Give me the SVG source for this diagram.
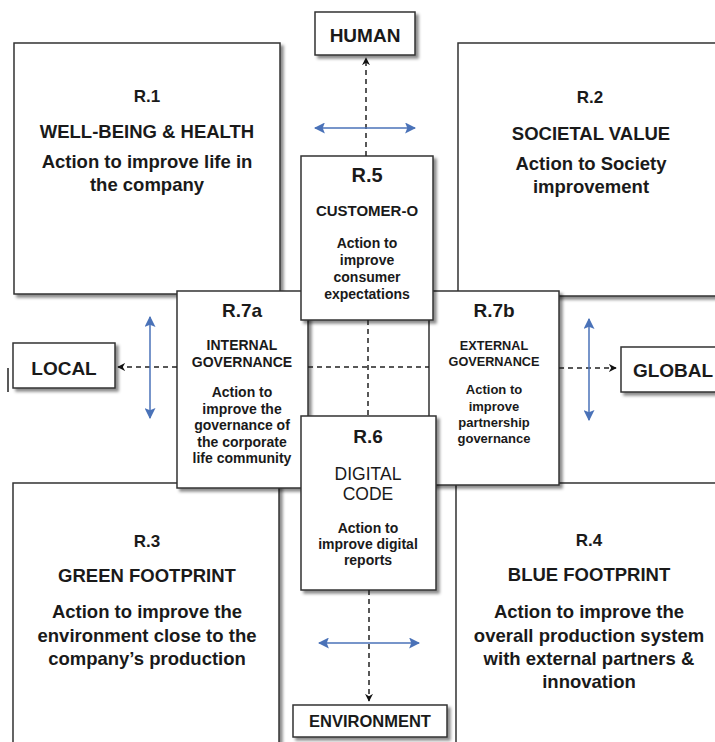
<svg xmlns="http://www.w3.org/2000/svg" width="715" height="742" viewBox="0 0 715 742">
<defs>
<filter id="sh" x="-10%" y="-10%" width="125%" height="125%">
<feDropShadow dx="3" dy="3" stdDeviation="1.6" flood-color="#000" flood-opacity="0.45"/>
</filter>
<marker id="ah" viewBox="0 0 10 10" refX="9" refY="5" markerWidth="8" markerHeight="8" markerUnits="userSpaceOnUse" orient="auto-start-reverse">
<path d="M0,0 L10,5 L0,10 L3,5 z" fill="#111"/>
</marker>
<marker id="bh" viewBox="0 0 10 10" refX="9" refY="5" markerWidth="11" markerHeight="11" markerUnits="userSpaceOnUse" orient="auto-start-reverse">
<path d="M0,0 L10,5 L0,10 L2,5 z" fill="#4a72b8"/>
</marker>
</defs>
<style>
.box{fill:#fff;stroke:#333;stroke-width:1.5;filter:url(#sh)}
text{font-family:"Liberation Sans",Arial,Helvetica,sans-serif;fill:#1a1a1a;text-anchor:middle}
.b{font-weight:bold}
.q{font-size:18.5px;font-weight:bold}
.qr{font-size:17px;font-weight:bold}
.dash{stroke:#222;stroke-width:1.5;stroke-dasharray:5,4;fill:none}
.blue{stroke:#4a72b8;stroke-width:1.5;fill:none;marker-start:url(#bh);marker-end:url(#bh)}
</style>

<g id="R1">
<rect class="box" x="14" y="43" width="266" height="251"/>
<text class="qr" x="147" y="102">R.1</text>
<text class="q" x="147" y="138">WELL-BEING &amp; HEALTH</text>
<text class="q" x="147" y="168">Action to improve life in</text>
<text class="q" x="147" y="191">the company</text>
</g>
<g id="R2">
<rect class="box" x="458" y="43" width="270" height="253"/>
<text class="qr" x="590" y="103">R.2</text>
<text class="q" x="591" y="140">SOCIETAL VALUE</text>
<text class="q" x="591" y="170">Action to Society</text>
<text class="q" x="591" y="193">improvement</text>
</g>
<g id="R3">
<rect class="box" x="13" y="483" width="266" height="270"/>
<text class="qr" x="147" y="547">R.3</text>
<text class="q" x="147" y="582">GREEN FOOTPRINT</text>
<text class="q" x="147" y="618">Action to improve the</text>
<text class="q" x="147" y="642">environment close to the</text>
<text class="q" x="147" y="665">company’s production</text>
</g>
<g id="R4">
<rect class="box" x="456" y="483" width="272" height="270"/>
<text class="qr" x="589" y="546">R.4</text>
<text class="q" x="589" y="581">BLUE FOOTPRINT</text>
<text class="q" x="589" y="618">Action to improve the</text>
<text class="q" x="589" y="642">overall production system</text>
<text class="q" x="589" y="665">with external partners &amp;</text>
<text class="q" x="589" y="688">innovation</text>
</g>

<g id="HUMAN">
<rect class="box" x="315" y="12" width="100" height="43"/>
<text class="b" x="365" y="42" font-size="19">HUMAN</text>
</g>
<g id="LOCAL">
<rect class="box" x="13" y="343" width="102" height="45"/>
<text class="b" x="64" y="375" font-size="19">LOCAL</text>
</g>
<g id="GLOBAL">
<rect class="box" x="621" y="347" width="110" height="45"/>
<text class="b" x="673" y="377" font-size="19">GLOBAL</text>
</g>
<g id="ENVIRONMENT">
<rect class="box" x="293" y="705" width="154" height="32"/>
<text class="b" x="370" y="727" font-size="16.5">ENVIRONMENT</text>
</g>

<g id="R7a">
<rect class="box" x="177" y="291" width="131" height="197"/>
<text class="b" x="242" y="317" font-size="19">R.7a</text>
<text class="b" x="242" y="350" font-size="14">INTERNAL</text>
<text class="b" x="242" y="367" font-size="14">GOVERNANCE</text>
<text class="b" x="242" y="397" font-size="14">Action to</text>
<text class="b" x="242" y="413.5" font-size="14">improve the</text>
<text class="b" x="242" y="430" font-size="14">governance of</text>
<text class="b" x="242" y="446.5" font-size="14">the corporate</text>
<text class="b" x="242" y="463" font-size="14">life community</text>
</g>
<g id="R7b">
<rect class="box" x="429" y="291" width="130" height="194"/>
<text class="b" x="494" y="317" font-size="19">R.7b</text>
<text class="b" x="494" y="350" font-size="12.7">EXTERNAL</text>
<text class="b" x="494" y="366" font-size="12.7">GOVERNANCE</text>
<text class="b" x="494" y="394" font-size="13">Action to</text>
<text class="b" x="494" y="410.5" font-size="13">improve</text>
<text class="b" x="494" y="427" font-size="13">partnership</text>
<text class="b" x="494" y="443" font-size="13">governance</text>
</g>
<g id="R5">
<rect class="box" x="301" y="156" width="132" height="164"/>
<text class="b" x="367" y="182" font-size="20">R.5</text>
<text class="b" x="367" y="216" font-size="15">CUSTOMER-O</text>
<text class="b" x="367" y="248" font-size="14">Action to</text>
<text class="b" x="367" y="265" font-size="14">improve</text>
<text class="b" x="367" y="282" font-size="14">consumer</text>
<text class="b" x="367" y="299" font-size="14">expectations</text>
</g>
<g id="R6">
<rect class="box" x="301" y="416" width="135" height="174"/>
<text class="b" x="368" y="443" font-size="19">R.6</text>
<text x="368" y="480" font-size="17.5">DIGITAL</text>
<text x="368" y="500" font-size="17.5">CODE</text>
<text class="b" x="368" y="533" font-size="14">Action to</text>
<text class="b" x="368" y="549" font-size="14">improve digital</text>
<text class="b" x="368" y="565" font-size="14">reports</text>
</g>

<g id="connectors">
<line class="dash" x1="366" y1="156" x2="366" y2="58" marker-end="url(#ah)"/>
<line class="dash" x1="369" y1="590" x2="369" y2="701" marker-end="url(#ah)"/>
<line class="dash" x1="177" y1="367" x2="118" y2="367" marker-end="url(#ah)"/>
<line class="dash" x1="559" y1="368" x2="616" y2="368" marker-end="url(#ah)"/>
<line class="dash" x1="308" y1="367" x2="429" y2="367"/>
<line class="dash" x1="368" y1="320" x2="368" y2="416"/>
<line class="blue" x1="315" y1="128" x2="415" y2="128"/>
<line class="blue" x1="319" y1="643" x2="419" y2="643"/>
<line class="blue" x1="150" y1="317" x2="150" y2="418"/>
<line class="blue" x1="589" y1="319" x2="589" y2="420"/>
</g>
<line x1="8" y1="368" x2="8" y2="392" stroke="#222" stroke-width="1.5"/>
</svg>
